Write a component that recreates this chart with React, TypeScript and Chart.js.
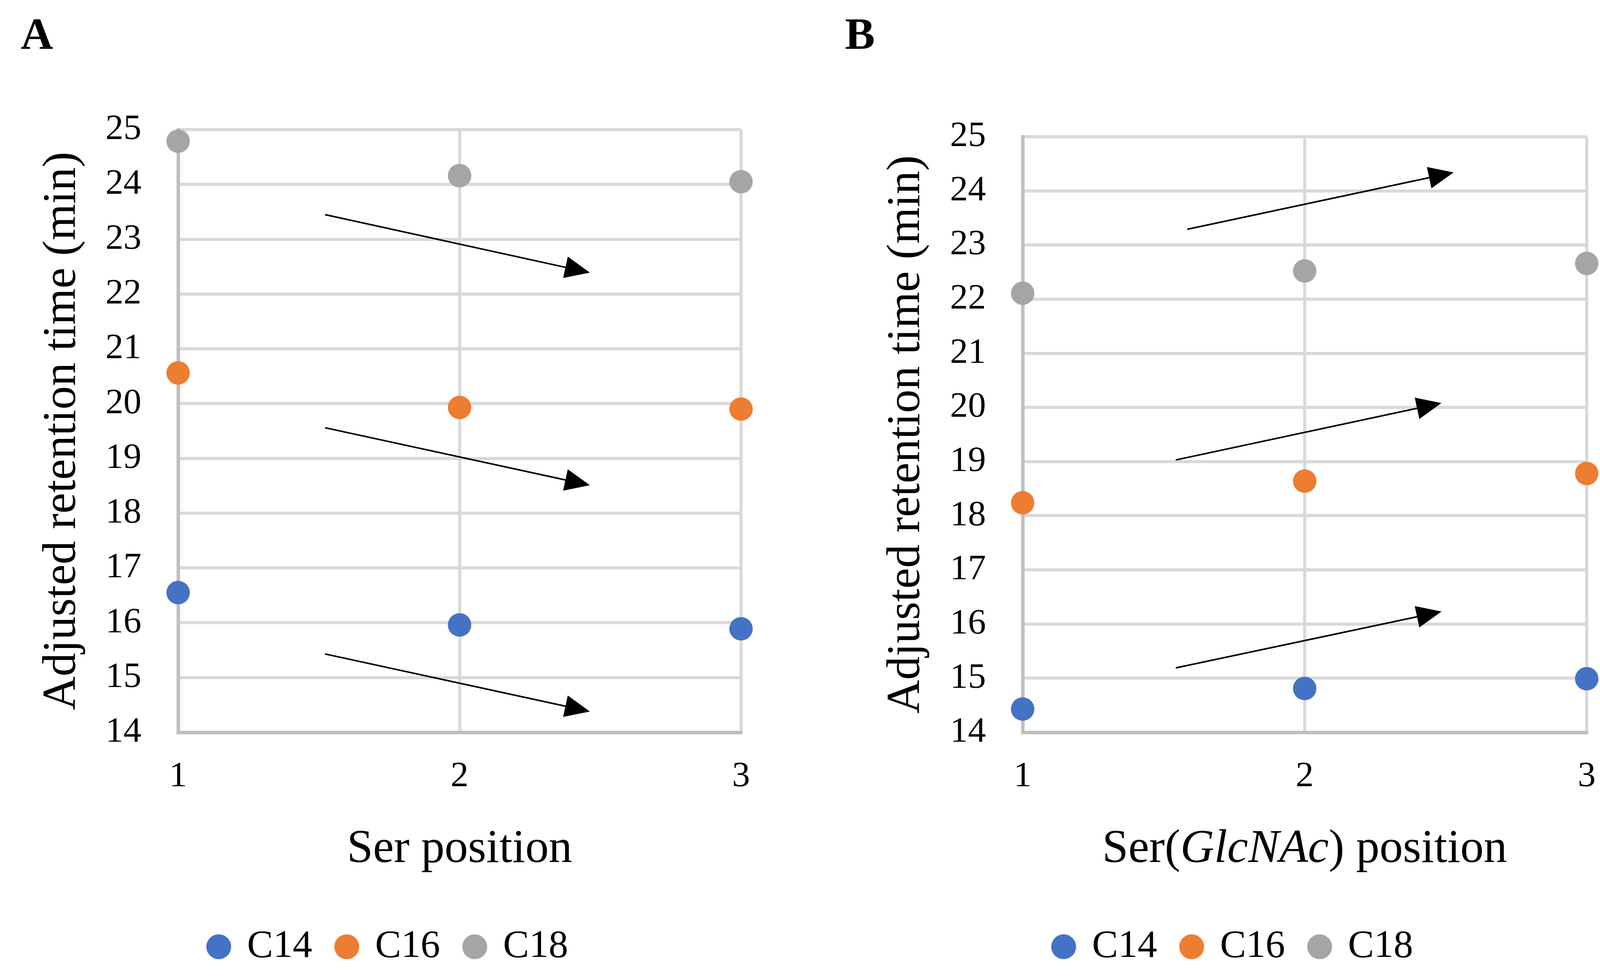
import React, { useEffect, useRef } from 'react';
import { Chart, registerables } from 'chart.js';

Chart.register(...registerables);

// ---------- data ----------
const positions = [1, 2, 3];
const seriesNames = ['C14', 'C16', 'C18'];
const seriesColors = ['#4472C4', '#ED7D31', '#A5A5A5'];

// Panel A: Ser position
const serC14 = [16.55, 15.96, 15.89];
const serC16 = [20.56, 19.93, 19.9];
const serC18 = [24.79, 24.16, 24.05];

// Panel B: Ser(GlcNAc) position
const glcC14 = [14.43, 14.81, 14.99];
const glcC16 = [18.24, 18.64, 18.78];
const glcC18 = [22.11, 22.52, 22.66];

const yMin = 14;
const yMax = 25;

// trend arrows [x1, y1, x2, y2] in data units
const arrowsA = [
  [1.522, 23.45, 2.463, 22.39],
  [1.522, 19.56, 2.463, 18.51],
  [1.522, 15.43, 2.463, 14.38],
];
const arrowsB = [
  [1.584, 23.29, 2.528, 24.34],
  [1.543, 19.03, 2.485, 20.08],
  [1.543, 15.19, 2.485, 16.23],
];

const yTitle = 'Adjusted retention time (min)';
const xTitleA = [{ text: 'Ser position', italic: false }];
const xTitleB = [
  { text: 'Ser(', italic: false },
  { text: 'GlcNAc', italic: true },
  { text: ') position', italic: false },
];

// ---------- styling ----------
const FONT = "'Liberation Serif', 'Times New Roman', serif";
const W = 2073;
const H = 2504;

const arrowPlugin = {
  id: 'arrows',
  afterDatasetsDraw(chart: any, _args: any, opts: any) {
    const { ctx, scales } = chart;
    const xs = scales.x;
    const ys = scales.y;
    (opts.list || []).forEach((a: number[]) => {
      const sx = xs.getPixelForValue(a[0]);
      const sy = ys.getPixelForValue(a[1]);
      const ex = xs.getPixelForValue(a[2]);
      const ey = ys.getPixelForValue(a[3]);
      const ang = Math.atan2(ey - sy, ex - sx);
      const L = 64;
      const HW = 28;
      const c = Math.cos(ang);
      const s = Math.sin(ang);
      const bx = ex - L * c;
      const by = ey - L * s;
      ctx.save();
      ctx.strokeStyle = '#000';
      ctx.fillStyle = '#000';
      ctx.lineWidth = 4;
      ctx.beginPath();
      ctx.moveTo(sx, sy);
      ctx.lineTo(bx + 2 * c, by + 2 * s);
      ctx.stroke();
      ctx.beginPath();
      ctx.moveTo(ex, ey);
      ctx.lineTo(bx - HW * s, by + HW * c);
      ctx.lineTo(bx + HW * s, by - HW * c);
      ctx.closePath();
      ctx.fill();
      ctx.restore();
    });
  },
};

const xTitlePlugin = {
  id: 'xTitleRich',
  afterDraw(chart: any, _args: any, opts: any) {
    const { ctx, chartArea } = chart;
    const parts = opts.parts || [];
    const size = opts.size || 120;
    const fontOf = (p: any) => `${p.italic ? 'italic ' : ''}normal ${size}px ${FONT}`;
    ctx.save();
    let total = 0;
    const widths = parts.map((p: any) => {
      ctx.font = fontOf(p);
      const w = ctx.measureText(p.text).width;
      total += w;
      return w;
    });
    let x = (chartArea.left + chartArea.right) / 2 - total / 2;
    const y = chartArea.bottom + opts.offset;
    ctx.fillStyle = '#000';
    ctx.textBaseline = 'middle';
    ctx.textAlign = 'left';
    parts.forEach((p: any, i: number) => {
      ctx.font = fontOf(p);
      ctx.fillText(p.text, x, y);
      x += widths[i];
    });
    ctx.restore();
  },
};

type PanelProps = {
  series: number[][];
  arrows: number[][];
  xTitle: { text: string; italic: boolean }[];
  padLeft: number;
  padRight: number;
  padTop: number;
  yAxisWidth: number;
  left: number;
};

function Panel(props: PanelProps) {
  const ref = useRef<HTMLCanvasElement | null>(null);
  useEffect(() => {
    if (!ref.current) return;
    const datasets = seriesNames.map((name, i) => ({
      label: name,
      data: positions.map((x, j) => ({ x, y: props.series[i][j] })),
      backgroundColor: seriesColors[i],
      borderColor: seriesColors[i],
      pointRadius: 30,
      pointHoverRadius: 30,
      pointBorderWidth: 0,
      borderWidth: 0,
      showLine: false,
      clip: false,
    }));
    const chart = new Chart(ref.current, {
      type: 'scatter',
      data: { datasets },
      options: {
        animation: false,
        responsive: false,
        devicePixelRatio: 1,
        events: [],
        layout: {
          padding: { left: props.padLeft, right: props.padRight, top: props.padTop, bottom: 20 },
        },
        plugins: {
          legend: {
            position: 'bottom',
            labels: {
              usePointStyle: true,
              pointStyle: 'circle',
              boxWidth: 45,
              boxHeight: 45,
              padding: 66,
              color: '#000',
              font: { family: FONT, size: 100 },
            },
          },
          tooltip: { enabled: false },
          arrows: { list: props.arrows },
          xTitleRich: { parts: props.xTitle, size: 120, offset: 300 },
        } as any,
        scales: {
          x: {
            type: 'linear',
            min: 1,
            max: 3,
            ticks: {
              stepSize: 1,
              padding: 59,
              color: '#000',
              font: { family: FONT, size: 92 },
            },
            grid: {
              color: (c: any) => (c.tick && c.tick.value === 1 ? 'rgba(0,0,0,0)' : '#D9D9D9'),
              lineWidth: 8,
              drawTicks: false,
            },
            border: { color: '#BFBFBF', width: 9 },
            afterFit: (s: any) => {
              s.height = 433;
            },
          },
          y: {
            type: 'linear',
            min: yMin,
            max: yMax,
            ticks: {
              stepSize: 1,
              padding: 94,
              color: '#000',
              font: { family: FONT, size: 92 },
            },
            grid: {
              color: (c: any) => (c.tick && c.tick.value === yMin ? 'rgba(0,0,0,0)' : '#D9D9D9'),
              lineWidth: 8,
              drawTicks: false,
            },
            border: { color: '#BFBFBF', width: 9 },
            title: {
              display: true,
              text: yTitle,
              color: '#000',
              font: { family: FONT, size: 120, lineHeight: 1.0 },
              padding: { top: 5, bottom: 0 },
            },
            afterFit: (s: any) => {
              s.width = props.yAxisWidth;
            },
          },
        },
      } as any,
      plugins: [arrowPlugin, xTitlePlugin],
    });
    return () => chart.destroy();
  }, []);
  return (
    <canvas
      ref={ref}
      width={W}
      height={H}
      style={{ position: 'absolute', left: props.left, top: 0, width: W, height: H }}
    />
  );
}

const letterStyle: React.CSSProperties = {
  position: 'absolute',
  top: 29,
  fontFamily: FONT,
  fontWeight: 'bold',
  fontSize: 115,
  lineHeight: '115px',
  color: '#000',
};

export default function App() {
  return (
    <div
      style={{
        position: 'absolute',
        left: 0,
        top: 0,
        width: 4146,
        height: 2504,
        background: '#fff',
        overflow: 'hidden',
      }}
    >
      <Panel
        series={[serC14, serC16, serC18]}
        arrows={arrowsA}
        xTitle={xTitleA}
        padLeft={95}
        padRight={176}
        padTop={332}
        yAxisWidth={361}
        left={0}
      />
      <Panel
        series={[glcC14, glcC16, glcC18]}
        arrows={arrowsB}
        xTitle={xTitleB}
        padLeft={183}
        padRight={84}
        padTop={350}
        yAxisWidth={362}
        left={2073}
      />
      <div style={{ ...letterStyle, left: 53 }}>A</div>
      <div style={{ ...letterStyle, left: 2163 }}>B</div>
    </div>
  );
}
